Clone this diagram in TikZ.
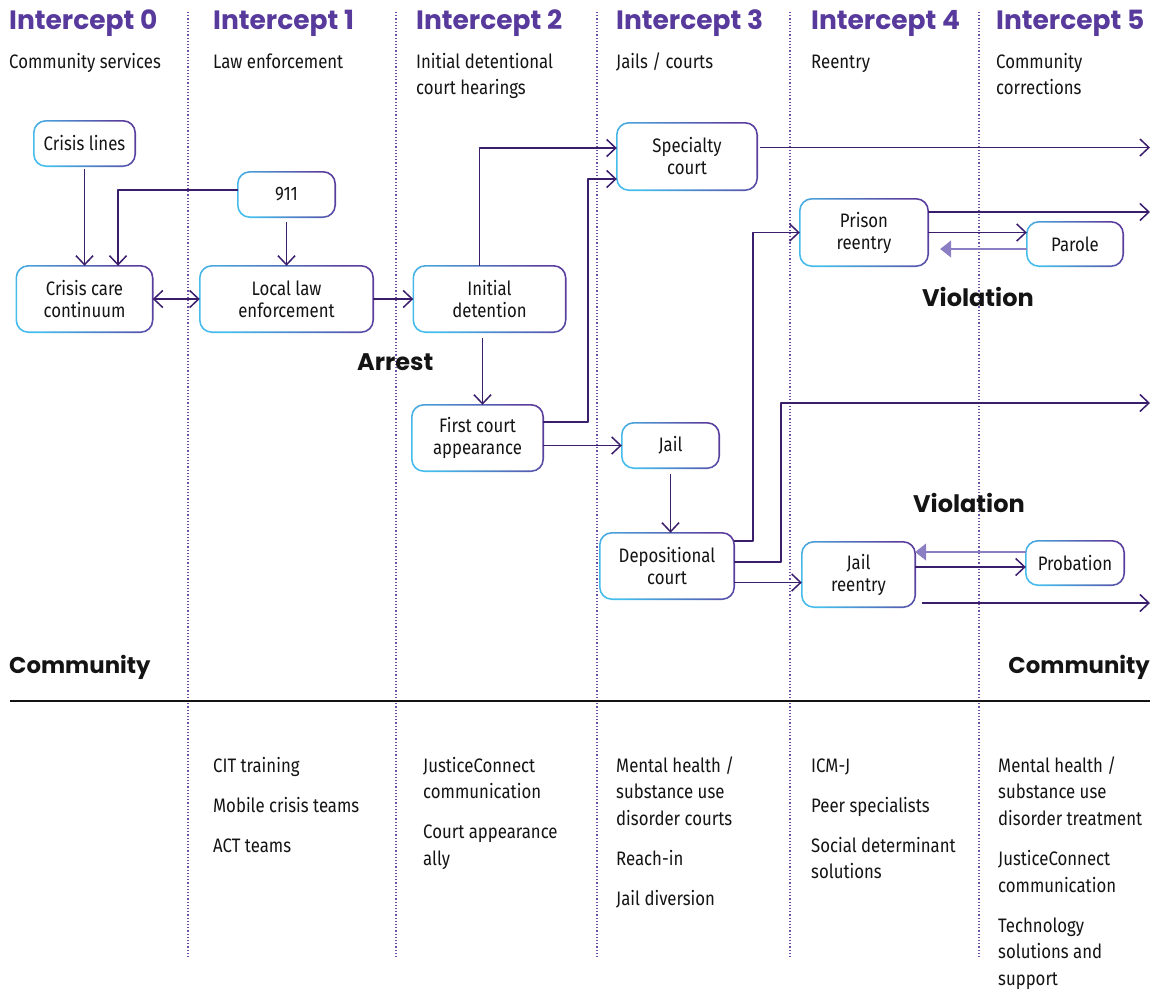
\documentclass[tikz,border=0pt]{standalone}
\usepackage{fontspec}
\setmainfont{Fira Sans}[FakeStretch=0.86]
\newfontfamily\headfont{Poppins}
\usetikzlibrary{arrows.meta,positioning}

\definecolor{interpurple}{HTML}{573A9C}
\definecolor{flowline}{HTML}{3A1E6C}
\definecolor{boxcyan}{HTML}{45BCEB}
\definecolor{boxviolet}{HTML}{5A3E9E}
\definecolor{violationline}{HTML}{8C7EC2}
\definecolor{dotline}{HTML}{6B4FA6}
\definecolor{labelblack}{HTML}{141414}

\begin{document}
\begin{tikzpicture}[
  x=1pt,
  y=-1pt,
  line join=round,
  >={Straight Barb[length=9pt,width=17pt]},
  heading/.style={anchor=base west,inner sep=0pt,text=interpurple,
    font=\headfont\bfseries\fontsize{26.5}{30}\selectfont},
  bigword/.style={anchor=base west,inner sep=0pt,text=labelblack,
    font=\headfont\bfseries\fontsize{24}{28}\selectfont},
  subhead/.style={anchor=base west,inner sep=0pt,text=labelblack,
    font=\fontsize{19.5}{22}\selectfont},
  listtext/.style={subhead},
  box/.style={align=center,inner sep=0pt,text=labelblack,
    font=\fontsize{19.5}{22}\selectfont},
  boxring/.style={even odd rule,left color=boxcyan,right color=boxviolet,shading angle=120},
  divider/.style={draw=dotline,line width=1.2pt,dotted},
  flow/.style={draw=flowline,line width=1.5pt,->},
  backflow/.style={draw=violationline,line width=1.5pt,-{Triangle[length=11pt,width=17pt]}}
]
  % Match the artwork frame.
  \useasboundingbox (0,0) rectangle (1156,989);

  % Intercept columns and the community line.
  \foreach \x in {188,396,597,790,979} {
    \draw[divider] (\x,12) -- (\x,958);
  }
  \draw[labelblack,line width=1.2pt] (10,701) -- (1150,701);

  \foreach \i/\x in {0/9,1/213,2/416,3/616,4/811,5/996} {
    \node[heading] (head\i) at (\x,29.5) {Intercept \i};
  }
  \node[subhead] (sub0) at (9,68) {Community services};
  \node[subhead] (sub1) at (213,68) {Law enforcement};
  \node[subhead] (sub2a) at (416,68) {Initial detentional};
  \node[subhead] (sub2b) at (416,94) {court hearings};
  \node[subhead] (sub3) at (616,68) {Jails / courts};
  \node[subhead] (sub4) at (811,68) {Reentry};
  \node[subhead] (sub5a) at (996,68) {Community};
  \node[subhead] (sub5b) at (996,94) {corrections};

  % Flow boxes.
  \node[box,minimum width=101pt,minimum height=45pt] (crisislines) at (84.5,143.5) {Crisis lines};
  \node[box,minimum width=97pt,minimum height=45pt] (call911) at (286.5,194.5) {911};
  \node[box,minimum width=136pt,minimum height=66pt] (crisiscare) at (84.5,299) {Crisis care\\continuum};
  \node[box,minimum width=173pt,minimum height=66pt] (lawenf) at (286.5,299) {Local law\\enforcement};
  \node[box,minimum width=152pt,minimum height=66pt] (detention) at (489.5,299) {Initial\\detention};
  \node[box,minimum width=131pt,minimum height=66pt] (firstcourt) at (477.5,438) {First court\\appearance};
  \node[box,minimum width=140pt,minimum height=67pt] (specialty) at (687,156.5) {Specialty\\court};
  \node[box,minimum width=97pt,minimum height=45pt] (jail) at (670.5,445.5) {Jail};
  \node[box,minimum width=134pt,minimum height=66pt] (depcourt) at (667,566) {Depositional\\court};
  \node[box,minimum width=128pt,minimum height=67pt] (prison) at (864,232.5) {Prison\\reentry};
  \node[box,minimum width=96pt,minimum height=44pt] (parole) at (1075,244) {Parole};
  \node[box,minimum width=113pt,minimum height=65pt] (jailreentry) at (858.5,574.5) {Jail\\reentry};
  \node[box,minimum width=98pt,minimum height=44pt] (probation) at (1075,563) {Probation};

  % Rounded outlines fade from cyan to violet.
  \foreach \b in {crisislines,call911,crisiscare,lawenf,detention,firstcourt,specialty,
                  jail,depcourt,prison,parole,jailreentry,probation} {
    \shade[boxring] [rounded corners=12.8pt]
      ([shift={(-0.8,0.8)}]\b.south west) rectangle ([shift={(0.8,-0.8)}]\b.north east)
      [rounded corners=11.2pt]
      ([shift={(0.8,-0.8)}]\b.south west) rectangle ([shift={(-0.8,0.8)}]\b.north east);
  }

  % Free ends and offset attachment points.
  \coordinate (rightedge) at (1150,0);
  \coordinate (callout) at ([yshift=4.5pt]call911.west);
  \coordinate (callin) at ([xshift=33.5pt]crisiscare.north);
  \coordinate (detup) at ([xshift=-10pt]detention.north);
  \coordinate (specin1) at ([yshift=8.5pt]specialty.west);
  \coordinate (firstup) at ([yshift=16pt]firstcourt.east);
  \coordinate (specin2) at ([yshift=-22.5pt]specialty.west);
  \coordinate (detdown) at ([xshift=-7pt]detention.south);
  \coordinate (depup) at ([yshift=25pt]depcourt.east);
  \coordinate (depmid) at ([yshift=4pt]depcourt.east);
  \coordinate (deplow) at ([yshift=-16.5pt]depcourt.east);
  \coordinate (jailexit) at (1150,403);
  \coordinate (specout) at ([yshift=9pt]specialty.east);
  \coordinate (prisonout) at ([yshift=20.5pt]prison.east);
  \coordinate (paroleback) at ([yshift=-5pt]parole.west);
  \coordinate (reentryout) at ([yshift=7.5pt]jailreentry.east);
  \coordinate (probback) at ([yshift=11pt]probation.west);
  \coordinate (reentrylow) at ([yshift=-28.5pt]jailreentry.east);

  % Intercepts 0 to 2.
  \draw[flow,shorten <=3pt] (crisislines.south) -- (crisislines.south |- crisiscare.north);
  \draw[flow] (callout) -| (callin);
  \draw[flow,shorten <=5pt] (call911.south) -- (lawenf.north);
  \draw[flow,<->] (crisiscare.east) -- (lawenf.west);
  \draw[flow] (lawenf.east) -- (detention.west);
  \draw[flow] (detup) |- (specin1);
  \draw[flow,shorten <=6pt] (detdown) -- (detdown |- firstcourt.north);
  \draw[flow] (firstup) -- ++(45,0) |- (specin2);
  \draw[flow] (firstcourt.east |- jail.west) -- (jail.west);

  % Intercepts 3 to 5.
  \draw[flow,shorten <=6pt] (jail.south) -- (jail.south |- depcourt.north);
  \draw[flow] (depup) -- ++(19,0) |- (prison.west);
  \draw[flow] (depmid) -- ++(47,0) |- (jailexit);
  \draw[flow] (deplow) -- (deplow -| jailreentry.west);
  \draw[flow,shorten <=3pt] (specout) -- (specout -| rightedge);
  \draw[flow] (prisonout) -- (prisonout -| rightedge);
  \draw[flow] (prison.east) -- (prison.east -| parole.west);
  \draw[backflow,shorten >=12pt] (paroleback) -- (paroleback -| prison.east);
  \draw[flow] (reentryout) -- (reentryout -| probation.west);
  \draw[backflow] (probback) -- (probback -| jailreentry.east);
  \draw[flow,shorten <=7pt] (reentrylow) -- (reentrylow -| rightedge);

  % Bold captions.
  \node[bigword] (arrest) at (357,370) {Arrest};
  \node[bigword] (violation1) at (922,306) {Violation};
  \node[bigword] (violation2) at (913,512) {Violation};
  \node[bigword,font=\headfont\bfseries\fontsize{22.8}{28}\selectfont] (commleft) at (9,673) {Community};
  \node[bigword,font=\headfont\bfseries\fontsize{22.8}{28}\selectfont,anchor=base east] (commright) at (1150,673) {Community};

  % Supporting programmes under each intercept.
  \foreach \t/\y [count=\k] in {CIT training/772,Mobile crisis teams/812,ACT teams/852} {
    \node[listtext] (lawlist\k) at (213,\y) {\t};
  }
  \foreach \t/\y [count=\k] in {JusticeConnect/772,communication/798,Court appearance/838,ally/865} {
    \node[listtext] (courtlist\k) at (423,\y) {\t};
  }
  \foreach \t/\y [count=\k] in {{Mental health /}/772,substance use/798,disorder courts/825,
                                Reach-in/865,Jail diversion/905} {
    \node[listtext] (jaillist\k) at (616,\y) {\t};
  }
  \foreach \t/\y [count=\k] in {ICM-J/772,Peer specialists/812,Social determinant/852,solutions/878} {
    \node[listtext] (reentrylist\k) at (811,\y) {\t};
  }
  \foreach \t/\y [count=\k] in {{Mental health /}/772,substance use/798,disorder treatment/825,
                                JusticeConnect/865,communication/892,Technology/932,
                                solutions and/958,support/985} {
    \node[listtext] (corrlist\k) at (998,\y) {\t};
  }
\end{tikzpicture}
\end{document}
